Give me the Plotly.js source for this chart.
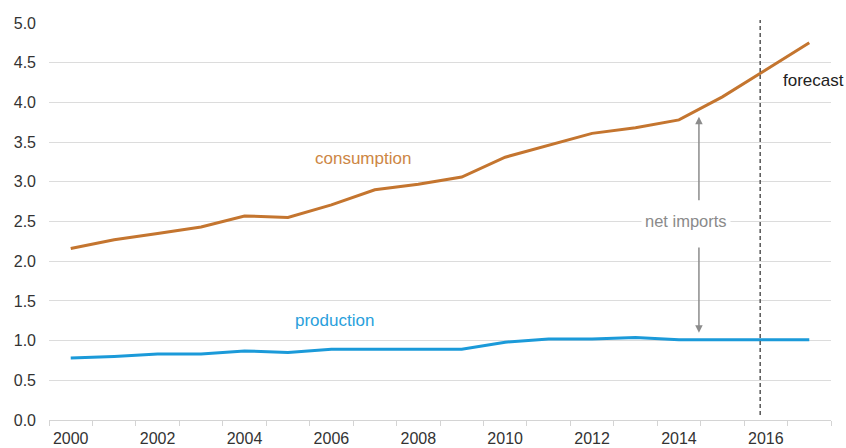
<!DOCTYPE html>
<html>
<head>
<meta charset="utf-8">
<script src="https://cdn.plot.ly/plotly-3.0.1.min.js"></script>
<style>html,body{margin:0;padding:0;background:#fff;}#chart{width:846px;height:448px;}</style>
</head>
<body>
<div id="chart"></div>
<script>
var years = [2000,2001,2002,2003,2004,2005,2006,2007,2008,2009,2010,2011,2012,2013,2014,2015,2016,2017];
var consumption = [2.16,2.27,2.35,2.43,2.57,2.55,2.71,2.90,2.97,3.06,3.31,3.46,3.61,3.68,3.78,4.07,4.41,4.75];
var production = [0.78,0.80,0.83,0.83,0.87,0.85,0.89,0.89,0.89,0.89,0.98,1.02,1.02,1.04,1.01,1.01,1.01,1.01];
var xTickLabels = [2000,2002,2004,2006,2008,2010,2012,2014,2016];
var yTicks = [0,0.5,1,1.5,2,2.5,3,3.5,4,4.5,5];

var font = "Liberation Sans, Arial, sans-serif";

var traces = [
  {x: years, y: consumption, type: 'scatter', mode: 'lines', name: 'consumption',
   line: {color: '#c4752f', width: 3}, hoverinfo: 'skip'},
  {x: years, y: production, type: 'scatter', mode: 'lines', name: 'production',
   line: {color: '#1b9ad9', width: 3}, hoverinfo: 'skip'}
];

var layout = {
  width: 846, height: 448,
  margin: {l: 49, r: 15, t: 23, b: 28},
  paper_bgcolor: '#ffffff', plot_bgcolor: '#ffffff',
  showlegend: false,
  font: {family: font, size: 16, color: '#333333'},
  xaxis: {
    type: 'linear', range: [1999.5, 2017.5],
    tickvals: xTickLabels, ticktext: xTickLabels.map(String),
    ticks: '', showgrid: false, zeroline: false,
    showline: true, linecolor: '#d4d4d4', linewidth: 1,
    tickfont: {family: font, size: 16, color: '#333333'},
    ticklabelstandoff: 4,
    minor: {tick0: 1999.5, dtick: 1, ticks: 'outside', ticklen: 5, tickcolor: '#d4d4d4', tickwidth: 1, showgrid: false}
  },
  yaxis: {
    range: [0, 5], tickvals: yTicks, tickformat: '.1f',
    ticks: '', showgrid: true, gridcolor: '#dcdcdc', gridwidth: 1,
    zeroline: false, showline: false,
    tickfont: {family: font, size: 16, color: '#333333'},
    ticklabelstandoff: 12
  },
  shapes: [
    {type: 'line', xref: 'x', yref: 'paper', x0: 2015.87, x1: 2015.87, y0: 0.0126, y1: 1.0076,
     line: {color: '#555555', width: 1.5, dash: '4px,3px'}}
  ],
  annotations: [
    {x: 2006.73, y: 3.29, xref: 'x', yref: 'y', text: 'consumption', showarrow: false,
     font: {family: font, size: 17, color: '#cd8645'}},
    {x: 2006.06, y: 1.25, xref: 'x', yref: 'y', text: 'production', showarrow: false,
     font: {family: font, size: 17, color: '#2a9fdc'}},
    {x: 2014.16, y: 2.51, xref: 'x', yref: 'y', text: 'net imports', showarrow: false,
     bgcolor: '#ffffff', borderpad: 3,
     font: {family: font, size: 16.5, color: '#8a8a8a'}},
    {x: 2017.09, y: 4.28, xref: 'x', yref: 'y', text: 'forecast', showarrow: false,
     font: {family: font, size: 17, color: '#222222'}},
    {x: 2014.46, y: 3.82, ax: 2014.46, ay: 2.75, xref: 'x', yref: 'y', axref: 'x', ayref: 'y',
     text: '', showarrow: true, arrowhead: 2, arrowsize: 1, arrowwidth: 1.5, arrowcolor: '#8c8c8c'},
    {x: 2014.46, y: 1.10, ax: 2014.46, ay: 2.19, xref: 'x', yref: 'y', axref: 'x', ayref: 'y',
     text: '', showarrow: true, arrowhead: 2, arrowsize: 1, arrowwidth: 1.5, arrowcolor: '#8c8c8c'}
  ]
};

Plotly.newPlot('chart', traces, layout, {staticPlot: true, displayModeBar: false});
</script>
</body>
</html>
